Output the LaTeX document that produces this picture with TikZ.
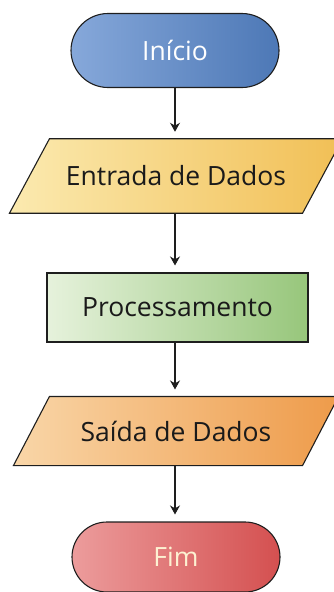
\documentclass[tikz,border=0pt]{standalone}
\usepackage{fontspec}
\setmainfont{Open Sans}
\usetikzlibrary{shapes.misc,arrows.meta,backgrounds}
\definecolor{bordercol}{HTML}{1E1E1E}
\definecolor{textcol}{HTML}{1A1A1A}
\definecolor{blueL}{HTML}{86A8DA}
\definecolor{blueR}{HTML}{4D78B6}
\definecolor{yelL}{HTML}{FBEAB0}
\definecolor{yelR}{HTML}{F1BF55}
\definecolor{grnL}{HTML}{E6F2DC}
\definecolor{grnR}{HTML}{97C67B}
\definecolor{orgL}{HTML}{F9D6A8}
\definecolor{orgR}{HTML}{EE9B4A}
\definecolor{redL}{HTML}{EC9C9C}
\definecolor{redR}{HTML}{D45050}
\definecolor{fimtext}{HTML}{FDF1D2}
\tikzset{
  x=1pt,y=1pt,
  base/.style={line width=1.1pt, font=\fontsize{26.5}{30}\selectfont, text=textcol, inner sep=0pt},
  term/.style={base, draw=bordercol, rounded rectangle, minimum width=208pt, minimum height=74pt},
  iotext/.style={base, rectangle, minimum width=292pt, minimum height=73.4pt},
  shapeline/.style={draw=bordercol, line width=1.1pt, line join=miter},
  proc/.style={base, draw=bordercol, rectangle, minimum width=261pt, minimum height=69pt},
  arr/.style={-{Stealth[length=9pt,width=10pt]}, line width=1.1pt, draw=bordercol, shorten >=7pt}
}
\begin{document}
\begin{tikzpicture}
\useasboundingbox (0,0) rectangle (334,-592);
\node[term, left color=blueL, right color=blueR, text=white] (inicio) at (175,-50.5) {Início};
\node[iotext] (entrada) at (176,-176) {Entrada de Dados};
\node[proc, left color=grnL, right color=grnR] (proc) at (177.5,-307.5) {Processamento};
\node[iotext, minimum width=288pt, minimum height=68pt] (saida) at (176,-431) {Saída de Dados};
\node[term, left color=redL, right color=redR, text=fimtext, minimum height=70pt] (fim) at (176,-557) {Fim};
\begin{scope}[on background layer]
\draw[shapeline, left color=yelL, right color=yelR]
  ([xshift=20pt]entrada.north west) -- ([xshift=20pt]entrada.north east)
  -- ([xshift=-20pt]entrada.south east) -- ([xshift=-20pt]entrada.south west) -- cycle;
\draw[shapeline, left color=orgL, right color=orgR]
  ([xshift=18pt]saida.north west) -- ([xshift=18pt]saida.north east)
  -- ([xshift=-18pt]saida.south east) -- ([xshift=-18pt]saida.south west) -- cycle;
\end{scope}
\draw[arr] (inicio.south) -- (inicio.south |- entrada.north);
\draw[arr] (inicio.south |- entrada.south) -- (inicio.south |- proc.north);
\draw[arr] (inicio.south |- proc.south) -- (inicio.south |- saida.north);
\draw[arr] (inicio.south |- saida.south) -- (inicio.south |- fim.north);
\end{tikzpicture}
\end{document}
